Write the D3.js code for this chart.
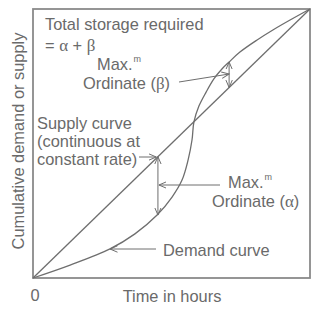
<!DOCTYPE html>
<html>
<head>
<meta charset="utf-8">
<script src="https://cdn.jsdelivr.net/npm/d3@7"></script>
<style>
  body { margin: 0; background: #fff; }
  text { font-family: "Liberation Sans", Arial, sans-serif; fill: #6a6a6a; font-size: 16.4px; }
  .greek { font-family: "Liberation Serif", "DejaVu Serif", serif; font-size: 17px; }
</style>
</head>
<body>
<div id="chart"></div>
<script>
// Chart values (time and volume in percent of the full period / total)
const timeDomain = [0, 100];
const volumeDomain = [0, 100];
const supplyCurve = [[0, 0], [100, 100]];
const demandCurve = [
    [0, 0], [13.4, 4.8], [27.8, 10.8], [36.8, 16.4], [44.8, 23.4],
    [50.2, 30.1], [53.8, 36.4], [56.0, 43.9], [57.4, 51.3], [58.1, 58.0],
    [59.9, 63.9], [62.5, 69.1], [65.3, 74.0], [68.2, 77.7], [70.8, 80.3],
    [74.7, 84.0], [80.9, 88.5], [86.6, 92.2], [92.8, 95.9], [100, 100]
];
// max ordinates between the curves: time, supply value, demand value
const ordinateTimes = [45.1, 70.8];
const ordinateSupply = [45.1, 70.8];
const ordinateDemand = [23.4, 80.3];
const xLabel = "Time in hours";
const yLabel = "Cumulative demand or supply";
const originLabel = "0";

const width = 323, height = 316;
const margin = { top: 9, right: 13, bottom: 38, left: 33 };

const x = d3.scaleLinear().domain(timeDomain).range([margin.left, width - margin.right]);
const y = d3.scaleLinear().domain(volumeDomain).range([height - margin.bottom, margin.top]);

const svg = d3.select("#chart").append("svg")
    .attr("width", width)
    .attr("height", height);

const ink = "#6e6e6e";

// open arrow head
svg.append("defs").append("marker")
    .attr("id", "arrow")
    .attr("viewBox", "0 0 8 8")
    .attr("refX", 7.5).attr("refY", 4)
    .attr("markerWidth", 8).attr("markerHeight", 8)
    .attr("markerUnits", "userSpaceOnUse")
    .attr("orient", "auto-start-reverse")
    .append("path")
    .attr("d", "M0,0.8 L7.5,4 L0,7.2")
    .attr("fill", "none")
    .attr("stroke", ink)
    .attr("stroke-width", 1);

// frame
svg.append("rect")
    .attr("x", x(timeDomain[0]))
    .attr("y", y(volumeDomain[1]))
    .attr("width", x(timeDomain[1]) - x(timeDomain[0]))
    .attr("height", y(volumeDomain[0]) - y(volumeDomain[1]))
    .attr("fill", "none")
    .attr("stroke", "#8a8a8a")
    .attr("stroke-width", 1.8);

const line = d3.line().x(d => x(d[0])).y(d => y(d[1]));

svg.append("path")
    .datum(supplyCurve)
    .attr("d", line)
    .attr("fill", "none")
    .attr("stroke", ink)
    .attr("stroke-width", 1.3);

svg.append("path")
    .datum(demandCurve)
    .attr("d", line.curve(d3.curveCatmullRom.alpha(0.5)))
    .attr("fill", "none")
    .attr("stroke", ink)
    .attr("stroke-width", 1.3);

// ordinates with arrows at both ends
svg.append("g").selectAll("line")
    .data(ordinateTimes)
    .join("line")
    .attr("x1", d => x(d))
    .attr("x2", d => x(d))
    .attr("y1", (d, i) => y(ordinateSupply[i]))
    .attr("y2", (d, i) => y(ordinateDemand[i]))
    .attr("stroke", ink)
    .attr("stroke-width", 1)
    .attr("marker-start", "url(#arrow)")
    .attr("marker-end", "url(#arrow)");

// leader lines from labels
function leader(x1, y1, x2, y2) {
    svg.append("line")
        .attr("x1", x1).attr("y1", y1)
        .attr("x2", x2).attr("y2", y2)
        .attr("stroke", ink)
        .attr("stroke-width", 1)
        .attr("marker-end", "url(#arrow)");
}
const xa = x(ordinateTimes[0]), xb = x(ordinateTimes[1]);
leader(179, 82, xb, 74);                 // beta
leader(220, 185, xa + 1, 185);           // alpha
leader(139, 157, x(44.5), 157);          // supply
leader(156, 249, x(27.8), 249);          // demand

// labels
function label(tx, ty, str, anchor) {
    return svg.append("text")
        .attr("x", tx).attr("y", ty)
        .attr("text-anchor", anchor || "start")
        .text(str);
}

label(45, 30, "Total storage required");
const t2 = label(45, 51, "= ");
t2.append("tspan").attr("class", "greek").text("α");
t2.append("tspan").text(" + ");
t2.append("tspan").attr("class", "greek").text("β");

function maxLabel(tx, ty) {
    const t = label(tx, ty, "Max.");
    t.append("tspan").attr("font-size", 9).attr("dx", 1).attr("dy", -8).text("m");
}
maxLabel(97, 70);
const tb = label(83, 89, "Ordinate (");
tb.append("tspan").attr("class", "greek").text("β");
tb.append("tspan").text(")");

label(37, 129, "Supply curve");
label(37, 147, "(continuous at");
label(37, 165, "constant rate)");

maxLabel(228, 188);
const ta = label(212, 207, "Ordinate (");
ta.append("tspan").attr("class", "greek").text("α");
ta.append("tspan").text(")");

label(163, 256, "Demand curve");

label(x(0) + 2, 301, originLabel, "middle");
label(172, 302, xLabel, "middle");

svg.append("text")
    .attr("transform", `translate(24,${141}) rotate(-90)`)
    .attr("text-anchor", "middle")
    .text(yLabel);
</script>
</body>
</html>
